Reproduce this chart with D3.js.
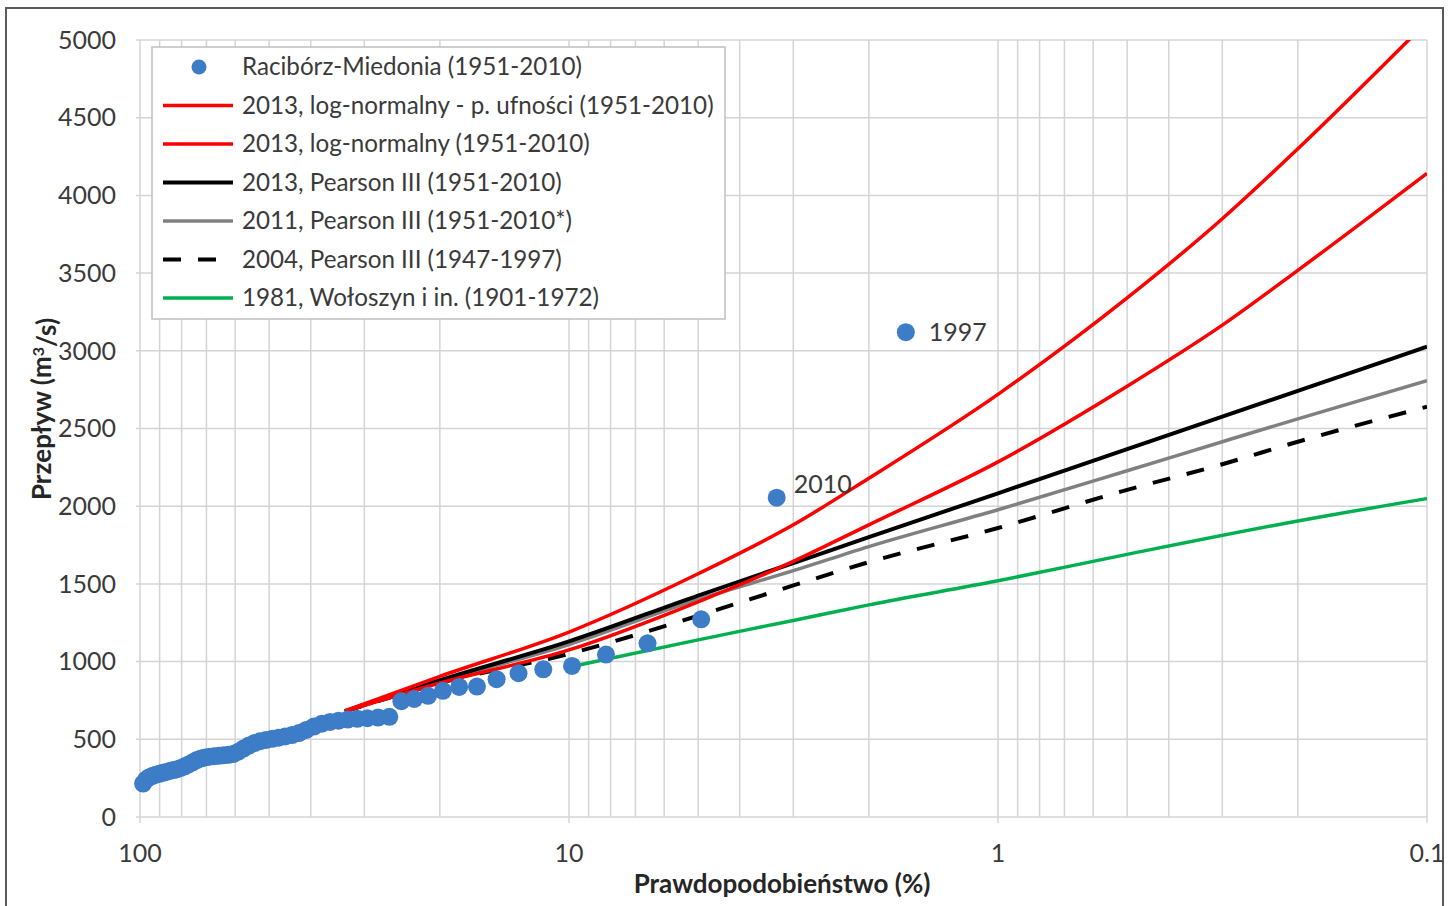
<!DOCTYPE html>
<html>
<head>
<meta charset="utf-8">
<script src="https://cdn.jsdelivr.net/npm/d3@7"></script>
<style>
  html, body { margin: 0; padding: 0; background: #fff; }
  svg { display: block; }
  text { font-family: Lato, "Open Sans", "DejaVu Sans", sans-serif; }
</style>
</head>
<body>
<svg id="chart" width="1454" height="906"></svg>
<script>
// ---------- data ----------
const xTickValues = [100, 10, 1, 0.1];
const xTickLabels = ["100", "10", "1", "0.1"];
const yTickValues = [0, 500, 1000, 1500, 2000, 2500, 3000, 3500, 4000, 4500, 5000];

// observed annual maxima, Racibórz-Miedonia (1951-2010): exceedance probability (%) and flow (m3/s)
const obsProb = [1.64, 3.28, 4.92, 6.56, 8.20, 9.84, 11.48, 13.11, 14.75, 16.39,
  18.03, 19.67, 21.31, 22.95, 24.59, 26.23, 27.87, 29.51, 31.15, 32.79,
  34.43, 36.07, 37.70, 39.34, 40.98, 42.62, 44.26, 45.90, 47.54, 49.18,
  50.82, 52.46, 54.10, 55.74, 57.38, 59.02, 60.66, 62.30, 63.93, 65.57,
  67.21, 68.85, 70.49, 72.13, 73.77, 75.41, 77.05, 78.69, 80.33, 81.97,
  83.61, 85.25, 86.89, 88.52, 90.16, 91.80, 93.44, 95.08, 96.72, 98.36];
const obsFlow = [3120, 2055, 1272, 1118, 1045, 972, 950, 925, 887, 839,
  837, 812, 780, 760, 745, 645, 640, 636, 632, 627,
  620, 612, 600, 582, 560, 540, 527, 518, 510, 503,
  496, 488, 476, 460, 440, 420, 405, 400, 397, 394,
  391, 388, 383, 376, 366, 352, 338, 326, 316, 308,
  302, 296, 290, 284, 278, 272, 265, 256, 242, 215];
const labelYears = ["1997", "2010"];

// fitted distribution curves
const curveProb = [33.3, 20, 10, 5, 3, 2, 1, 0.5, 0.3, 0.2, 0.1];
const logNormalUpper = [682, 905, 1190, 1565, 1880, 2180, 2720, 3340, 3850, 4300, 5118];
const logNormal      = [680, 862, 1075, 1385, 1645, 1880, 2285, 2772, 3165, 3518, 4142];
const pearson2013    = [681, 880, 1130, 1425, 1634, 1801, 2083, 2367, 2576, 2742, 3026];
const pearson2011    = [680, 872, 1110, 1400, 1585, 1740, 1977, 2228, 2415, 2562, 2807];
const pearson2004    = [678, 862, 1050, 1295, 1490, 1640, 1860, 2105, 2270, 2415, 2640];
const greenProb = [10, 5, 3, 2, 1, 0.5, 0.2, 0.1];
const woloszyn1981 = [965, 1140, 1265, 1365, 1520, 1690, 1905, 2049];

const legendLabels = [
  "Racibórz-Miedonia (1951-2010)",
  "2013, log-normalny - p. ufności (1951-2010)",
  "2013, log-normalny (1951-2010)",
  "2013, Pearson III (1951-2010)",
  "2011, Pearson III (1951-2010*)",
  "2004, Pearson III (1947-1997)",
  "1981, Wołoszyn i in. (1901-1972)"
];

// ---------- styles ----------
const series = [
  { prob: curveProb, vals: logNormalUpper, color: "#ff0000", width: 3.5, dash: null },
  { prob: curveProb, vals: logNormal, color: "#ff0000", width: 3.5, dash: null },
  { prob: curveProb, vals: pearson2013, color: "#000000", width: 4, dash: null },
  { prob: curveProb, vals: pearson2011, color: "#808080", width: 3.5, dash: null },
  { prob: curveProb, vals: pearson2004, color: "#000000", width: 4, dash: "18,17" },
  { prob: greenProb, vals: woloszyn1981, color: "#00b050", width: 3.5, dash: null }
];
const dotColor = "#3d7cc6";
const gridColor = "#d4d4d4";
const textColor = "#3a3a3a";

// ---------- layout ----------
const svg = d3.select("#chart");
const L = 140, R = 1427, T = 40, B = 817;

const x = d3.scaleLog().domain([100, 0.1]).range([L, R]);
const y = d3.scaleLinear().domain([0, 5000]).range([B, T]);

// outer frame
svg.append("rect").attr("x", 6).attr("y", 8).attr("width", 1437).attr("height", 910)
  .attr("fill", "#fff").attr("stroke", "#5a5a5a").attr("stroke-width", 2);

// gridlines (vertical: log minor ticks)
const minorTicks = x.ticks().filter(v => v >= 0.1 && v <= 100);
svg.append("g").selectAll("line").data(minorTicks).join("line")
  .attr("x1", d => x(d)).attr("x2", d => x(d))
  .attr("y1", T).attr("y2", B)
  .attr("stroke", gridColor).attr("stroke-width", 1.5);
svg.append("g").selectAll("line").data(yTickValues).join("line")
  .attr("x1", L - 4).attr("x2", R)
  .attr("y1", d => y(d)).attr("y2", d => y(d))
  .attr("stroke", gridColor).attr("stroke-width", 1.5);
// major x ticks below axis
svg.append("g").selectAll("line").data(xTickValues).join("line")
  .attr("x1", d => x(d)).attr("x2", d => x(d))
  .attr("y1", B).attr("y2", B + 6)
  .attr("stroke", gridColor).attr("stroke-width", 1.5);

// axis labels
svg.append("g").selectAll("text").data(yTickValues).join("text")
  .attr("x", 116).attr("y", d => y(d)).attr("dy", "0.35em")
  .attr("text-anchor", "end").attr("font-size", 25).attr("fill", textColor)
  .text(d => d);
svg.append("g").selectAll("text").data(xTickValues).join("text")
  .attr("x", d => x(d)).attr("y", 853).attr("dy", "0.35em")
  .attr("text-anchor", "middle").attr("font-size", 25).attr("fill", textColor)
  .text((d, i) => xTickLabels[i]);

// axis titles
svg.append("text").attr("x", 782).attr("y", 884).attr("dy", "0.35em")
  .attr("text-anchor", "middle").attr("font-size", 26).attr("font-weight", "bold")
  .attr("fill", "#262626").text("Prawdopodobieństwo (%)");
const yt = svg.append("text").attr("transform", "translate(42,409) rotate(-90)")
  .attr("dy", "0.35em").attr("text-anchor", "middle").attr("font-size", 26)
  .attr("font-weight", "bold").attr("fill", "#262626");
yt.append("tspan").text("Przepływ (m");
yt.append("tspan").attr("dy", "-0.45em").attr("font-size", 16).text("3");
yt.append("tspan").attr("dy", "0.45em").text("/s)");

// clip
svg.append("clipPath").attr("id", "plotclip").append("rect")
  .attr("x", L).attr("y", T).attr("width", R - L).attr("height", B - T);

// curves
const line = d3.line().x(d => x(d[0])).y(d => y(d[1])).curve(d3.curveMonotoneX);
const curves = svg.append("g").attr("clip-path", "url(#plotclip)");
[...series].reverse().forEach(s => {
  curves.append("path")
    .attr("d", line(s.prob.map((p, i) => [p, s.vals[i]])))
    .attr("fill", "none").attr("stroke", s.color).attr("stroke-width", s.width)
    .attr("stroke-dasharray", s.dash);
});

// observed points
svg.append("g").selectAll("circle").data(obsProb.map((p, i) => [p, obsFlow[i]])).join("circle")
  .attr("cx", d => x(d[0])).attr("cy", d => y(d[1])).attr("r", 9)
  .attr("fill", dotColor);

// year labels for the two largest floods
const labelDx = [23, 17], labelDy = [0, -13];
svg.append("g").selectAll("text").data(labelYears).join("text")
  .attr("x", (d, i) => x(obsProb[i]) + labelDx[i]).attr("y", (d, i) => y(obsFlow[i]) + labelDy[i])
  .attr("dy", "0.35em").attr("font-size", 25).attr("fill", textColor)
  .text(d => d);

// legend
const lg = svg.append("g");
lg.append("rect").attr("x", 152).attr("y", 47).attr("width", 573).attr("height", 272)
  .attr("fill", "#fff").attr("stroke", "#bfbfbf").attr("stroke-width", 1.5);
legendLabels.forEach((lab, i) => {
  const cy = 67 + i * 38.5;
  if (i === 0) {
    lg.append("circle").attr("cx", 199).attr("cy", cy).attr("r", 7.5).attr("fill", dotColor);
  } else {
    const s = series[i - 1];
    lg.append("line").attr("x1", 163).attr("x2", 233).attr("y1", cy).attr("y2", cy)
      .attr("stroke", s.color).attr("stroke-width", s.width).attr("stroke-dasharray", s.dash);
  }
  lg.append("text").attr("x", 242).attr("y", cy).attr("dy", "0.35em")
    .attr("font-size", 24.2).attr("fill", textColor).text(lab);
});
</script>
</body>
</html>
